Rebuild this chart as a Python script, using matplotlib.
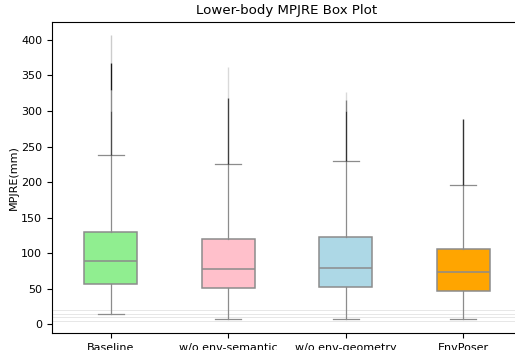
import matplotlib
matplotlib.use("Agg")
import matplotlib.pyplot as plt

labels = ["Baseline", "w/o env-semantic", "w/o env-geometry", "EnvPoser"]
colors = ["lightgreen", "pink", "lightblue", "orange"]

q1 = [57, 50.6, 52, 47]
med = [89, 78, 79, 73]
q3 = [129.5, 119.5, 122.5, 106]
whislo = [15, 7.5, 7.5, 7.5]
whishi = [238, 225, 230, 196]

# outlier bands per box: (low, high, alpha) -- drawn as dense dot columns
flier_bands = [
    [(238, 300, 0.7), (300, 330, 0.45), (330, 368, 0.9), (368, 407, 0.2)],
    [(225, 318, 0.75), (318, 362, 0.15)],
    [(230, 300, 0.8), (300, 315, 0.5), (315, 326, 0.15)],
    [(196, 288, 0.8)],
]

ref_lines = [5, 10, 15, 20]

fig = plt.figure(figsize=(5.15, 3.5), dpi=100)
ax = fig.add_axes([52 / 515, 16.7 / 350, 470 / 515, 311.3 / 350])

for y in ref_lines:
    ax.axhline(y, color="#e3e3e3", lw=0.6, zorder=0)

stats = []
for i in range(len(labels)):
    stats.append(dict(q1=q1[i], med=med[i], q3=q3[i],
                      whislo=whislo[i], whishi=whishi[i], fliers=[]))

grey = "#8c8c8c"
bp = ax.bxp(stats, positions=range(1, len(labels) + 1), widths=0.45,
            patch_artist=True, showfliers=False,
            boxprops=dict(edgecolor=grey, linewidth=1.1),
            medianprops=dict(color=grey, linewidth=1.1),
            whiskerprops=dict(color=grey, linewidth=0.9),
            capprops=dict(color=grey, linewidth=0.9))
for patch, c in zip(bp["boxes"], colors):
    patch.set_facecolor(c)

for i, bands in enumerate(flier_bands):
    for lo, hi, a in bands:
        ax.vlines(i + 1, lo, hi, color="black", lw=1.0, alpha=a, zorder=3)

ax.set_xticks(range(1, len(labels) + 1))
ax.set_xticklabels(labels, fontsize=8)
ax.tick_params(axis="y", labelsize=8)
ax.set_xlim(0.5, 4.5)
ax.set_ylim(-12.5, 425)
ax.set_yticks([0, 50, 100, 150, 200, 250, 300, 350, 400])
ax.set_ylabel("MPJRE(mm)", fontsize=8, labelpad=2)
ax.set_title("Lower-body MPJRE Box Plot", fontsize=9.6)

fig.savefig("out.png", dpi=100)
